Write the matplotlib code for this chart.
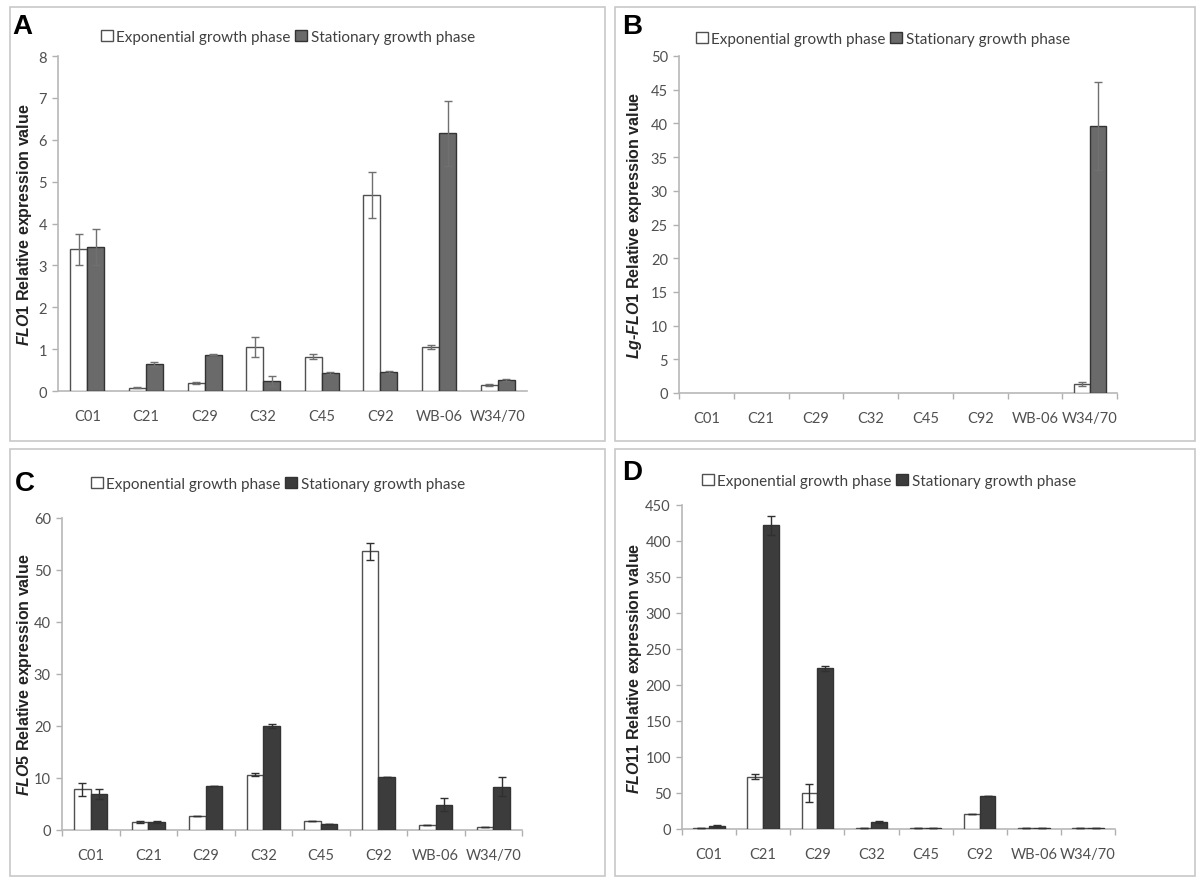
import matplotlib
matplotlib.use("Agg")
import matplotlib.pyplot as plt
import numpy as np
from matplotlib.patches import Rectangle

plt.rcParams['font.family'] = ['Lato', 'DejaVu Sans']
plt.rcParams['mathtext.fontset'] = 'custom'
plt.rcParams['mathtext.it'] = 'Liberation Sans:italic:bold'
plt.rcParams['mathtext.rm'] = 'Liberation Sans:bold'
plt.rcParams['mathtext.bf'] = 'Liberation Sans:bold'

strains = ["C01", "C21", "C29", "C32", "C45", "C92", "WB-06", "W34/70"]

# Panel A: FLO1
a_exp = [3.38, 0.08, 0.19, 1.06, 0.82, 4.68, 1.06, 0.14]
a_exp_err = [0.38, 0.01, 0.02, 0.24, 0.06, 0.56, 0.05, 0.02]
a_sta = [3.44, 0.64, 0.87, 0.24, 0.43, 0.45, 6.15, 0.26]
a_sta_err = [0.42, 0.05, 0.02, 0.12, 0.02, 0.02, 0.78, 0.03]

# Panel B: Lg-FLO1
b_exp = [0, 0, 0, 0, 0, 0, 0, 1.3]
b_exp_err = [0, 0, 0, 0, 0, 0, 0, 0.3]
b_sta = [0, 0, 0, 0, 0, 0, 0, 39.6]
b_sta_err = [0, 0, 0, 0, 0, 0, 0, 6.5]

# Panel C: FLO5
c_exp = [7.8, 1.5, 2.7, 10.6, 1.8, 53.6, 0.95, 0.6]
c_exp_err = [1.3, 0.2, 0.0, 0.3, 0.0, 1.6, 0.0, 0.0]
c_sta = [6.9, 1.5, 8.5, 20.0, 1.1, 10.2, 4.9, 8.3]
c_sta_err = [0.9, 0.2, 0.0, 0.3, 0.0, 0.0, 1.2, 1.8]

# Panel D: FLO11
d_exp = [1.5, 72.7, 50.0, 1.5, 1.0, 20.8, 1.0, 1.0]
d_exp_err = [0.0, 3.0, 12.0, 0.0, 0.0, 0.0, 0.0, 0.0]
d_sta = [4.0, 422.0, 223.0, 9.3, 1.0, 45.4, 1.0, 1.0]
d_sta_err = [1.0, 13.0, 3.0, 1.5, 0.0, 0.0, 0.0, 0.0]

panels = [
    dict(letter="A", label=r"$\mathit{FLO1}$ Relative expression value",
         exp=a_exp, expe=a_exp_err, sta=a_sta, stae=a_sta_err,
         ymax=8, step=1, dark="#6a6a6a", err="#707070", ticks=False,
         rect=(58, 57, 527, 392), box=(10, 8, 605, 442), leg=(288, 38), lett=(22, 27), ylx=25),
    dict(letter="B", label=r"$\mathit{Lg}$-$\mathit{FLO1}$ Relative expression value",
         exp=b_exp, expe=b_exp_err, sta=b_sta, stae=b_sta_err,
         ymax=50, step=5, dark="#6a6a6a", err="#707070", ticks=True,
         rect=(679, 57, 1117, 394), box=(615, 8, 1195, 442), leg=(883, 40), lett=(632, 27), ylx=635),
    dict(letter="C", label=r"$\mathit{FLO5}$ Relative expression value",
         exp=c_exp, expe=c_exp_err, sta=c_sta, stae=c_sta_err,
         ymax=60, step=10, dark="#3c3c3c", err="#303030", ticks=True,
         rect=(62, 519, 522, 831), box=(10, 450, 605, 877), leg=(278, 485), lett=(25, 484), ylx=25),
    dict(letter="D", label=r"$\mathit{FLO11}$ Relative expression value",
         exp=d_exp, expe=d_exp_err, sta=d_sta, stae=d_sta_err,
         ymax=450, step=50, dark="#3c3c3c", err="#303030", ticks=True,
         rect=(682, 506, 1115, 830), box=(615, 450, 1195, 877), leg=(889, 482), lett=(632, 473), ylx=634),
]

W, H = 1198, 879
fig = plt.figure(figsize=(W / 100, H / 100), dpi=100)


def hide_zero(v):
    v = np.asarray(v, dtype=float)
    return np.where(v == 0, np.nan, v)


for p in panels:
    bx0, by0, bx1, by1 = p["box"]
    fig.patches.append(Rectangle((bx0 / W, 1 - by1 / H), (bx1 - bx0) / W, (by1 - by0) / H,
                                 transform=fig.transFigure, fill=False,
                                 edgecolor="#c8c8c8", linewidth=1.2))
    x0, y0, x1, y1 = p["rect"]
    ax = fig.add_axes([x0 / W, 1 - y1 / H, (x1 - x0) / W, (y1 - y0) / H])
    x = np.arange(len(strains))
    w = 0.29
    ax.bar(x - w / 2, hide_zero(p["exp"]), w, color="white", edgecolor="#505050", linewidth=1.0,
           yerr=p["expe"], error_kw=dict(ecolor=p["err"], elinewidth=1.0, capsize=3, capthick=1.0),
           label="Exponential growth phase", zorder=3)
    ax.bar(x + w / 2, hide_zero(p["sta"]), w, color=p["dark"], edgecolor="#333333", linewidth=1.0,
           yerr=p["stae"], error_kw=dict(ecolor=p["err"], elinewidth=1.0, capsize=3, capthick=1.0),
           label="Stationary growth phase", zorder=3)
    ax.set_xlim(-0.5, len(strains) - 0.5)
    ax.set_ylim(0, p["ymax"])
    ax.set_yticks(np.arange(0, p["ymax"] + p["step"] / 2, p["step"]))
    ax.set_xticks(x)
    ax.set_xticklabels(strains)
    if p["ticks"]:
        ax.set_xticks(np.arange(-0.5, len(strains)), minor=True)
        ax.tick_params(axis="x", which="minor", length=4, color="#b0b0b0", width=1)
    ax.tick_params(axis="x", which="major", length=0, pad=13, labelsize=10.5, labelcolor="#505050")
    ax.tick_params(axis="y", length=4, color="#b0b0b0", width=1, pad=4, labelsize=10.5, labelcolor="#505050")
    for s in ["top", "right"]:
        ax.spines[s].set_visible(False)
    for s in ["left", "bottom"]:
        ax.spines[s].set_color("#b8b8b8")
        ax.spines[s].set_linewidth(1.2)
    fig.text(p["ylx"] / W, 1 - (y0 + y1) / 2 / H, p["label"], rotation=90, ha="center", va="center",
             fontsize=11.5, fontweight="bold", family=["Liberation Sans", "DejaVu Sans"], color="#222222")
    lx, ly = p["leg"]
    fig.legend(*ax.get_legend_handles_labels(), loc="center",
               bbox_to_anchor=(lx / W, 1 - ly / H), ncol=2, frameon=False,
               fontsize=11, handlelength=0.75, handleheight=0.75, handletextpad=0.25,
               columnspacing=0.3, labelcolor="#404040", borderpad=0)
    tx, ty = p["lett"]
    fig.text(tx / W, 1 - ty / H, p["letter"], fontsize=20, fontweight="bold",
             family=["Liberation Sans", "DejaVu Sans"], ha="center", va="center", color="black")

fig.savefig("out.png", dpi=100)
